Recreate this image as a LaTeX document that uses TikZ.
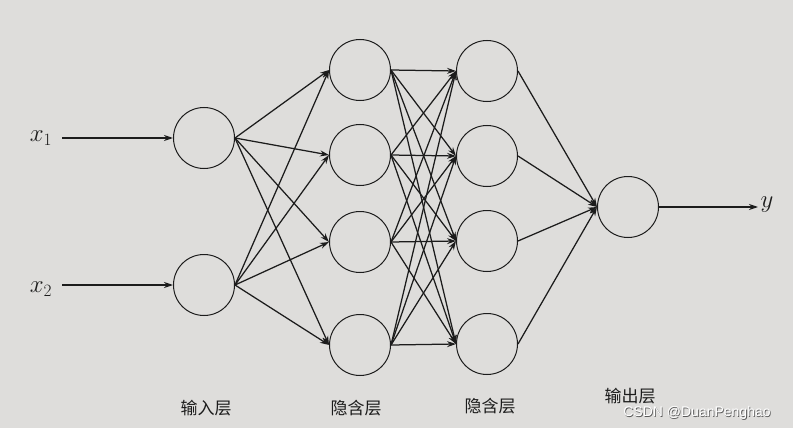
\documentclass[tikz,border=0pt]{standalone}
\usepackage{fontspec}
\newfontfamily\cjk{Noto Sans CJK SC}
\newfontfamily\wm{Liberation Sans}
\usetikzlibrary{arrows.meta}
\definecolor{paper}{RGB}{222,221,219}
\definecolor{ink}{RGB}{28,28,28}
\begin{document}
\begin{tikzpicture}[x=1pt,y=-1pt,
  neuron/.style={circle,draw=ink,line width=1pt,minimum size=61pt,inner sep=0pt},
  conn/.style={draw=ink,line width=1.25pt,-{Stealth[length=9pt,width=6pt]}},
  lbl/.style={font=\cjk\fontsize{17}{20}\selectfont,text=ink},
  var/.style={font=\fontsize{24}{28}\selectfont,text=ink}]
\fill[paper] (0,0) rectangle (793,428);
\useasboundingbox (0,0) rectangle (793,428);
% input layer
\node[neuron] (i1) at (204,138) {};
\node[neuron] (i2) at (204,285) {};
% hidden 1
\node[neuron] (a1) at (360,70) {};
\node[neuron] (a2) at (360,155) {};
\node[neuron] (a3) at (360,242) {};
\node[neuron] (a4) at (360,345) {};
% hidden 2
\node[neuron] (b1) at (487,71) {};
\node[neuron] (b2) at (487,156) {};
\node[neuron] (b3) at (487,241) {};
\node[neuron] (b4) at (487,344) {};
% output
\node[neuron] (o) at (628,207) {};
% inputs
\node[var] (x1) at (41,138) {$x_1$};
\node[var] (x2) at (41,289) {$x_2$};
\node[var] (y) at (767,205) {$y$};
\coordinate (x1e) at (62,138);
\coordinate (x2e) at (62,285);
\coordinate (ye) at (758,207);
\draw[conn] (x1e) -- (i1.west);
\draw[conn] (x2e) -- (i2.west);
\draw[conn] (o.east) -- (ye);
\foreach \i in {i1,i2}
  \foreach \a in {a1,a2,a3,a4}
    \draw[conn] (\i.east) -- (\a.west);
\foreach \a in {a1,a2,a3,a4}
  \foreach \b in {b1,b2,b3,b4}
    \draw[conn] (\a.east) -- (\b.west);
\foreach \b in {b1,b2,b3,b4}
  \draw[conn] (\b.east) -- (o.west);
% labels
\node[lbl] (l1) at (206,408) {输入层};
\node[lbl] (l2) at (356,408) {隐含层};
\node[lbl] (l3) at (490,406) {隐含层};
\node[lbl] (l4) at (630,396) {输出层};
\node[font=\wm\fontsize{14}{16}\selectfont,text=gray!70!black] at (697.8,413.8) {CSDN @DuanPenghao};
\node[font=\wm\fontsize{14}{16}\selectfont,text=white] (wm) at (697,413) {CSDN @DuanPenghao};
\end{tikzpicture}
\end{document}
